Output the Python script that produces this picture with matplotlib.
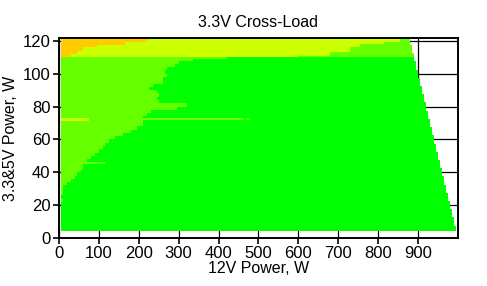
import numpy as np
import matplotlib
matplotlib.use("Agg")
import matplotlib.pyplot as plt
from matplotlib.colors import ListedColormap, BoundaryNorm

plt.rcParams['font.family'] = ['Liberation Sans', 'DejaVu Sans']

# ---------------- text ----------------
title = "3.3V Cross-Load"
x_label = "12V Power, W"
y_label = "3.3&5V Power, W"
x_ticks = [0, 100, 200, 300, 400, 500, 600, 700, 800, 900]
y_ticks = [0, 20, 40, 60, 80, 100, 120]

# ---------------- data ----------------
# measured load grid (W)
x_start_w, x_cell_w = 5, 5
y_start_w, y_end_w, y_cell_w = 4, 122, 0.5
max_total_w = 1000          # 12V + 3.3&5V load limit
band_start_y = 110          # top band of heavy 3.3&5V load

# deviation classes: 0 best ... 3 worst
class_colors = ['#00FF00', '#66FF00', '#CCFF00', '#FFCC00']

# main region: for each 2 W row, 12V power where class 0 begins (class 1 left of it)
split_y = [4, 6, 8, 10, 12, 14, 16, 18, 20, 22, 24, 26, 28, 30, 32, 34, 36, 38,
           40, 42, 44, 46, 48, 50, 52, 54, 56, 58, 60, 62, 64, 66, 68, 70, 72,
           74, 76, 78, 80, 82, 84, 86, 88, 90, 92, 94, 96, 98, 100, 102, 104,
           106, 108]
split_x = [5, 5, 5, 5, 5, 5, 5, 5, 5, 10, 5, 10, 10, 10, 20, 30, 38, 45,
           55, 58, 62, 72, 80, 88, 98, 108, 116, 125, 140, 158, 180, 195, 210,
           212, 212, 220, 228, 295, 320, 250, 245, 249, 245, 224, 237, 258, 262,
           270, 265, 270, 291, 300, 336]

# top band: class 3 region (x segment edges, from y)
orange_x_edges = [5, 30, 45, 60, 95, 165, 220]
orange_from_y = [110, 112, 114, 116, 117.5, 119.5]
# top band: class 1 region at the right (x segment edges, up to y)
right_x_edges = [600, 680, 730, 755, 815, 855, 1000]
right_to_y = [111, 113, 116, 118, 119, 121.5]

# isolated streaks: (y0, y1, x0, x1, class)
streaks = [
    (71, 73, 5, 75, 2),
    (72, 73, 212, 465, 1),
    (72, 73, 470, 480, 1),
    (45, 46.5, 60, 115, 1),
    (109, 110, 336, 421, 1),
]

# ---------------- build grid ----------------
x_edges = np.arange(x_start_w, max_total_w + 0.01, x_cell_w)
y_edges = np.arange(y_start_w, y_end_w + 0.01, y_cell_w)
xc = (x_edges[:-1] + x_edges[1:]) / 2
yc = (y_edges[:-1] + y_edges[1:]) / 2
X, Y = np.meshgrid(xc, yc)
cat = np.zeros_like(X)

for y0, bx in zip(split_y, split_x):
    cat[(Y >= y0) & (Y < y0 + 2) & (Y < band_start_y) & (X < bx)] = 1

band = Y >= band_start_y
cat[band] = 2
for i, fy in enumerate(orange_from_y):
    sel = band & (X >= orange_x_edges[i]) & (X < orange_x_edges[i + 1]) & (Y >= fy)
    cat[sel] = 3
for i, ty in enumerate(right_to_y):
    sel = band & (X >= right_x_edges[i]) & (X < right_x_edges[i + 1]) & (Y < ty)
    cat[sel] = 1

for y0, y1, x0, x1, c in streaks:
    cat[(Y >= y0) & (Y < y1) & (X >= x0) & (X < x1)] = c

cat = np.ma.masked_where(X + Y > max_total_w, cat)

# ---------------- plot ----------------
fig = plt.figure(figsize=(4.87, 2.86), dpi=100)
ax = fig.add_axes([0.1205, 0.1678, 0.8205, 0.6982])

cmap = ListedColormap(class_colors)
norm = BoundaryNorm([-0.5, 0.5, 1.5, 2.5, 3.5], cmap.N)
ax.pcolormesh(x_edges, y_edges, cat, cmap=cmap, norm=norm, shading='flat',
              antialiased=False, linewidth=0, edgecolors='none', zorder=2)

ax.set_xlim(0, 1000)
ax.set_ylim(0, 121.5)
ax.set_xticks(x_ticks)
ax.set_yticks(y_ticks)
ax.grid(True, color='black', linewidth=0.9, zorder=1)
ax.set_axisbelow(True)
for s in ax.spines.values():
    s.set_linewidth(1.4)
    s.set_color('black')
    s.set_zorder(3)
ax.tick_params(direction='out', length=4, width=1.2, pad=2, labelsize=12,
               colors='black')

ax.set_title(title, fontsize=11.5, pad=8)
ax.set_xlabel(x_label, fontsize=11.5, labelpad=0)
ax.set_ylabel(y_label, fontsize=11.5, labelpad=3)

fig.savefig("out.png", dpi=100)
